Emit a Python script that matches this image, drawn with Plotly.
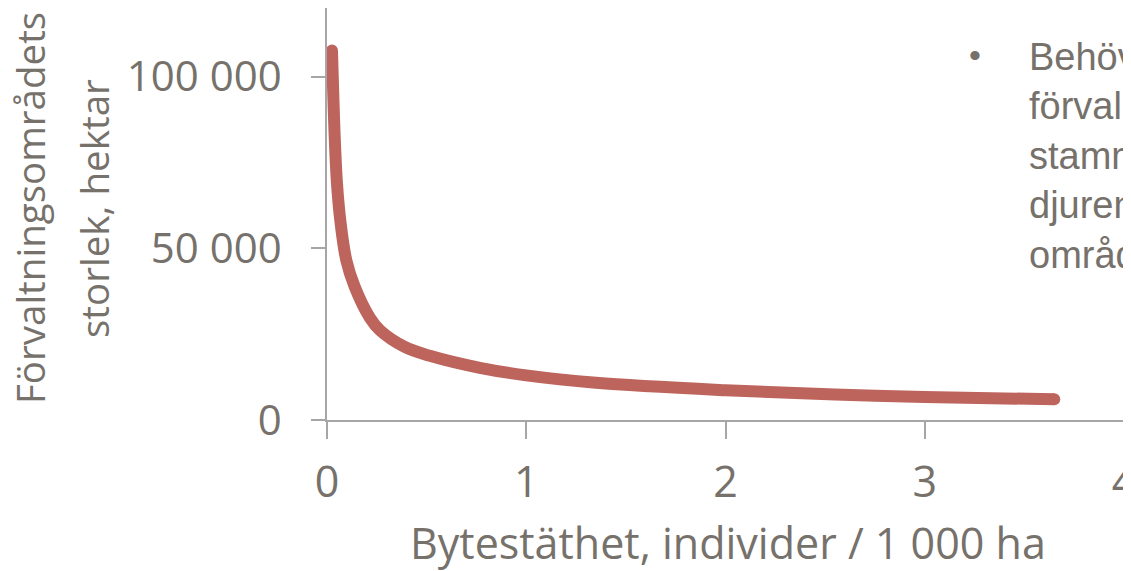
import plotly.graph_objects as go

# Data
density = [0.025, 0.039, 0.05, 0.067, 0.097, 0.139, 0.215, 0.265, 0.39, 0.516, 0.767, 1.0, 1.35, 2.0, 2.55, 3.0, 3.65]
area_ha = [107600, 82000, 69000, 58000, 46500, 38800, 29800, 26200, 21300, 18700, 15200, 13000, 10850, 8680, 7400, 6720, 6030]

y_tickvals = [0, 50000, 100000]
y_ticktext = ["0", "50 000", "100 000"]
x_tickvals = [0, 1, 2, 3, 4]
x_ticktext = ["0", "1", "2", "3", "4"]

x_title = "Bytestäthet, individer / 1 000 ha"
y_title_1 = "Förvaltningsområdets"
y_title_2 = "storlek, hektar"
side_lines = ["Behöv", "förval", "stamm", "djuren", "områd"]

# page body has an 8px margin: figure coordinates = window coordinates - 8
OFF = 8
W, H = 1131, 563
L, R, T, B = 319, 15, 0, 151
PW, PH = W - L - R, H - T - B

def px(x):
    return (x - OFF - L) / PW

def py(y):
    return (H - B - (y - OFF)) / PH

GRAY = "#76716B"
AXIS = "#A6A6A6"
LINE = "#BD645D"
FONT = "Open Sans"

fig = go.Figure()
fig.add_trace(go.Scatter(
    x=density, y=area_ha, mode="lines",
    line=dict(color=LINE, width=12, shape="spline", smoothing=1.0),
    hoverinfo="skip",
))
# round line caps at both ends of the curve
fig.add_trace(go.Scatter(
    x=[density[0], density[-1]], y=[area_ha[0], area_ha[-1]], mode="markers",
    marker=dict(color=LINE, size=12, line=dict(width=0)),
    hoverinfo="skip",
))

fig.update_layout(
    width=W, height=H,
    margin=dict(l=L, r=R, t=T, b=B, pad=0, autoexpand=False),
    paper_bgcolor="white", plot_bgcolor="white",
    showlegend=False,
    xaxis=dict(
        range=[0, 4], tickvals=x_tickvals, ticktext=x_ticktext,
        showgrid=False, zeroline=False, showline=True, linecolor=AXIS, linewidth=1.5,
        ticks="outside", ticklen=17, tickcolor=AXIS, tickwidth=1.5,
        tickfont=dict(family=FONT, size=43, color=GRAY),
        ticklabelstandoff=7, ticklabeloverflow="allow", automargin=False,
    ),
    yaxis=dict(
        range=[0, 120000], tickvals=y_tickvals, ticktext=y_ticktext,
        showgrid=False, zeroline=False, showline=True, linecolor=AXIS, linewidth=1.5,
        ticks="outside", ticklen=14, tickcolor=AXIS, tickwidth=1.5,
        tickfont=dict(family=FONT, size=42, color=GRAY),
        ticklabelstandoff=21, automargin=False,
    ),
)

annots = [
    dict(text=x_title, x=px(728), y=py(542), xanchor="center", yanchor="middle",
         font=dict(family=FONT, size=43, color=GRAY)),
    dict(text=y_title_1, x=px(30), y=py(208), textangle=-90, xanchor="center", yanchor="middle",
         font=dict(family=FONT, size=38.5, color=GRAY)),
    dict(text=y_title_2, x=px(94), y=py(208), textangle=-90, xanchor="center", yanchor="middle",
         font=dict(family=FONT, size=38.5, color=GRAY)),
    dict(text="•", x=px(975), y=py(55), xanchor="center", yanchor="middle",
         font=dict(family="Liberation Sans", size=34, color=GRAY)),
    dict(text="<br>".join(side_lines), x=px(1027), y=py(34), xanchor="left", yanchor="top",
         align="left", font=dict(family="Liberation Sans", size=38, color=GRAY)),
]
for a in annots:
    a.update(xref="paper", yref="paper", showarrow=False)
    fig.add_annotation(**a)

fig.write_html("out.html")
